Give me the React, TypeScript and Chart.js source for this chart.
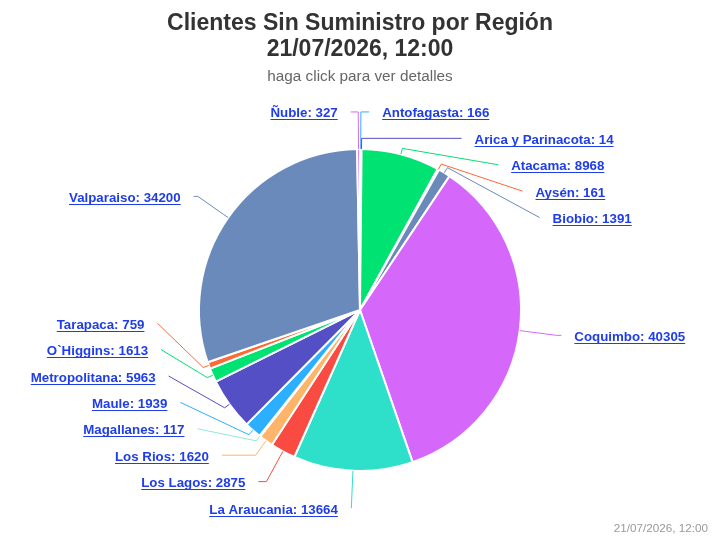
import React, { useEffect, useRef } from "react";
import { Chart, registerables } from "chart.js";

Chart.register(...registerables);

// ---- Data ----
const regions: string[] = [
  "Antofagasta",
  "Arica y Parinacota",
  "Atacama",
  "Aysén",
  "Biobio",
  "Coquimbo",
  "La Araucania",
  "Los Lagos",
  "Los Rios",
  "Magallanes",
  "Maule",
  "Metropolitana",
  "O`Higgins",
  "Tarapaca",
  "Valparaiso",
  "Ñuble",
];
const clientes: number[] = [166, 14, 8968, 161, 1391, 40305, 13664, 2875, 1620, 117, 1939, 5963, 1613, 759, 34200, 327];
const sliceColors: string[] = [
  "#2caffe", "#544fc5", "#00e272", "#fe6a35", "#6b8abc", "#d568fb", "#2ee0ca", "#fa4b42",
  "#feb56a", "#91e8e1", "#2caffe", "#544fc5", "#00e272", "#fe6a35", "#6b8abc", "#d568fb",
];
const titleLines: string[] = ["Clientes Sin Suministro por Región", "21/07/2026, 12:00"];
const subtitleText = "haga click para ver detalles";
const creditText = "21/07/2026, 12:00";

// ---- Style / layout ----
const FONT = "Arial, 'Liberation Sans', Helvetica, sans-serif";
const LABEL_COLOR = "#1f3de8";
const LABEL_FONT = `bold 13.3px ${FONT}`;
const LABEL_SPACING = 26.4;
const LABEL_BOUND = 37; // beyond radius, top/bottom bounds of label centers
const LABEL_NATURAL = 37;
const LABEL_RX = 42;
const LABEL_RY = 37.2;
const TEXT_GAP = 13;
const BREAK_OFFSET = 6;

const labelPlugin = {
  id: "pieLabels",
  afterDatasetsDraw(chart: any) {
    const ctx: CanvasRenderingContext2D = chart.ctx;
    const meta = chart.getDatasetMeta(0);
    const arcs: any[] = meta.data;
    if (!arcs.length) return;
    const cx = arcs[0].x;
    const cy = arcs[0].y;
    const r = arcs[0].outerRadius;
    const top = cy - (r + LABEL_BOUND);
    const bottom = cy + (r + LABEL_BOUND);

    type Item = { i: number; a: number; left: boolean; natY: number; y: number; connX: number };
    const items: Item[] = arcs.map((arc, i) => {
      const a = (arc.startAngle + arc.endAngle) / 2;
      const left = Math.cos(a) < 0;
      const natY = cy + Math.sin(a) * (r + LABEL_NATURAL);
      return { i, a, left, natY, y: natY, connX: cx };
    });

    const distribute = (group: Item[]) => {
      group.sort((p, q) => p.natY - q.natY);
      for (let k = 0; k < group.length; k++) {
        let y = group[k].natY;
        if (k === 0) y = Math.max(y, top);
        else y = Math.max(y, group[k - 1].y + LABEL_SPACING);
        group[k].y = y;
      }
      for (let k = group.length - 1; k >= 0; k--) {
        if (k === group.length - 1) group[k].y = Math.min(group[k].y, bottom);
        else group[k].y = Math.min(group[k].y, group[k + 1].y - LABEL_SPACING);
      }
      for (let k = 0; k < group.length; k++) {
        if (k === 0) group[k].y = Math.max(group[k].y, top);
        else group[k].y = Math.max(group[k].y, group[k - 1].y + LABEL_SPACING);
      }
    };
    distribute(items.filter((it) => !it.left));
    distribute(items.filter((it) => it.left));

    const rx = r + LABEL_RX;
    const ry = r + LABEL_RY;

    ctx.save();
    // connectors
    ctx.lineWidth = 1;
    items.forEach((it) => {
      const cos = Math.cos(it.a);
      const sin = Math.sin(it.a);
      const edge = { x: cx + cos * r, y: cy + sin * r };
      const brk = { x: edge.x + cos * BREAK_OFFSET, y: edge.y + sin * BREAK_OFFSET };
      const t = Math.max(-1, Math.min(1, (it.y - cy) / ry));
      const dx = rx * Math.sqrt(1 - t * t);
      const connX = it.left ? cx - dx : cx + dx;
      it.connX = connX;
      const crookX = cx + (cy - it.y) * Math.tan(it.a - Math.PI / 2);
      ctx.strokeStyle = sliceColors[it.i];
      ctx.beginPath();
      ctx.moveTo(connX, it.y);
      const useCrook = !it.left
        ? crookX <= connX && crookX >= brk.x
        : crookX >= connX && crookX <= brk.x;
      if (useCrook) ctx.lineTo(crookX, it.y);
      ctx.lineTo(brk.x, brk.y);
      ctx.lineTo(edge.x, edge.y);
      ctx.stroke();
    });

    // labels
    ctx.font = LABEL_FONT;
    ctx.fillStyle = LABEL_COLOR;
    ctx.textBaseline = "alphabetic";
    ctx.textAlign = "left";
    items.forEach((it) => {
      const text = `${regions[it.i]}: ${clientes[it.i]}`;
      const w = ctx.measureText(text).width;
      const x = it.left ? it.connX - TEXT_GAP - w : it.connX + TEXT_GAP;
      ctx.fillText(text, x, it.y + 5.5);
      ctx.fillRect(x, Math.round(it.y + 7.5), w, 1);
    });
    ctx.restore();
  },
};

const creditsPlugin = {
  id: "credits",
  afterDraw(chart: any) {
    const ctx: CanvasRenderingContext2D = chart.ctx;
    ctx.save();
    ctx.font = `11.7px ${FONT}`;
    ctx.fillStyle = "#999999";
    ctx.textAlign = "right";
    ctx.textBaseline = "alphabetic";
    ctx.fillText(creditText, chart.width - 12, chart.height - 8);
    ctx.restore();
  },
};

export default function App() {
  const canvasRef = useRef<HTMLCanvasElement | null>(null);

  useEffect(() => {
    const canvas = canvasRef.current;
    if (!canvas) return;
    const chart = new Chart(canvas, {
      type: "pie",
      data: {
        labels: regions,
        datasets: [
          {
            data: clientes,
            backgroundColor: sliceColors,
            borderColor: "#ffffff",
            borderWidth: 2,
          },
        ],
      },
      options: {
        responsive: false,
        animation: false,
        events: [],
        layout: { padding: { top: 0, left: 0, right: 0, bottom: 68 } },
        plugins: {
          legend: { display: false },
          tooltip: { enabled: false },
          title: {
            display: true,
            text: titleLines,
            color: "#333333",
            font: { family: FONT, size: 23, weight: "bold", lineHeight: 1.13 },
            padding: { top: 11, bottom: 0 },
          },
          subtitle: {
            display: true,
            text: subtitleText,
            color: "#666666",
            font: { family: FONT, size: 15.3, weight: "normal", lineHeight: 1.2 },
            padding: { top: 4.5, bottom: 62.1 },
          },
        },
      } as any,
      plugins: [labelPlugin, creditsPlugin],
    });
    return () => chart.destroy();
  }, []);

  return (
    <div style={{ position: "fixed", left: 0, top: 0, width: 720, height: 540, background: "#ffffff" }}>
      <canvas ref={canvasRef} width={720} height={540} style={{ width: 720, height: 540, display: "block" }} />
    </div>
  );
}
